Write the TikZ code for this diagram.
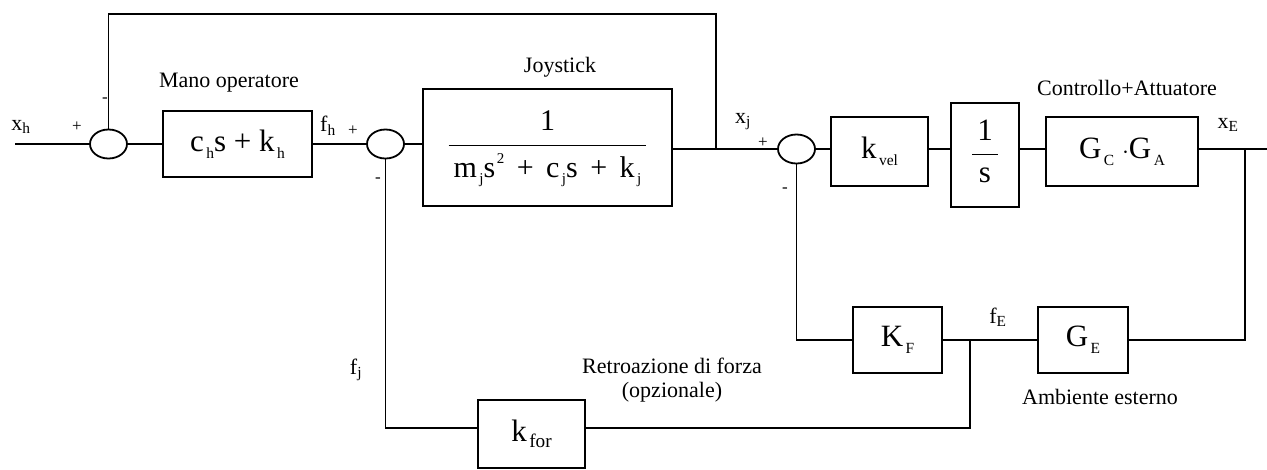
\documentclass[tikz,border=0pt]{standalone}
\usepackage{fontspec}
\setmainfont{Liberation Serif}
\usetikzlibrary{shapes.geometric}
\newcommand*{\lo}[1]{\kern.08em\raisebox{-.22em}{\scalebox{.5}{#1}}}
\newcommand*{\hi}[1]{\kern.05em\raisebox{.45em}{\scalebox{.5}{#1}}}

\begin{document}
\begin{tikzpicture}[x=1pt,y=-1pt,line width=1.8pt,
  blk/.style={draw,line width=1.8pt,inner sep=0pt,font=\fontsize{31}{33}\selectfont},
  sumnode/.style={draw,ellipse,line width=1.8pt,minimum width=37pt,minimum height=29pt,inner sep=0pt},
  lbl/.style={inner sep=0pt,font=\fontsize{22}{24}\selectfont},
  sgn/.style={inner sep=0pt,font=\fontsize{17}{17}\selectfont}]
\useasboundingbox (0,0) rectangle (1267,469);
\coordinate (xin) at (15,144);
\coordinate (ftop) at (716,14);
\coordinate (xjtap) at (716,149);
\coordinate (xout) at (1267,149);
\coordinate (xetap) at (1245,149);
\coordinate (fetap) at (970,340);
% summing junctions
\node[sumnode] (sum1) at (108.5,144) {};
\node[sumnode] (sum2) at (385.5,144) {};
\node[sumnode] (sum3) at (796.5,149) {};
% blocks
\node[blk,minimum width=149pt,minimum height=66pt] (hand) at (237.5,144) {c\lo{h}s + k\lo{h}};
\node[blk,minimum width=249pt,minimum height=117pt,font=\fontsize{30}{32}\selectfont] (joy) at (547.5,147.5)
  {\begin{tabular}{@{\,}c@{\,}}1\\[5pt]\hline\rule{0pt}{32pt}m\lo{j}s\hi{2}\, +\, c\lo{j}s\, +\, k\lo{j}\end{tabular}};
\node[blk,minimum width=97pt,minimum height=69pt] (kvel) at (879.5,151.5) {k\lo{vel}};
\node[blk,minimum width=68pt,minimum height=104pt] (integ) at (985,155)
  {\begin{tabular}{@{\,}c@{\,}}1\\[3pt]\hline\rule{0pt}{28pt}s\end{tabular}};
\node[blk,minimum width=152pt,minimum height=69pt] (gcga) at (1122,151.5) {G\lo{C} $\cdot$G\lo{A}};
\node[blk,minimum width=90pt,minimum height=66pt] (ge) at (1083,340) {G\lo{E}};
\node[blk,minimum width=89pt,minimum height=66pt] (kf) at (897.5,340) {K\lo{F}};
\node[blk,minimum width=107pt,minimum height=68pt] (kfor) at (531.5,434) {k\kern.08em\raisebox{-.2em}{\scalebox{.62}{for}}};
% labels
\node[lbl] (xhlbl) at (21,127) {x\textsubscript{h}};
\node[sgn] (p1) at (77,127) {+};
\node[sgn] (m1) at (105,100) {-};
\node[lbl] (handlbl) at (229,83) {Mano operatore};
\node[lbl] (fhlbl) at (328,126) {f\textsubscript{h}};
\node[sgn] (p2) at (353,131) {+};
\node[sgn] (m2) at (378,180) {-};
\node[lbl] (joylbl) at (560,67) {Joystick};
\node[lbl] (xjlbl) at (743,122) {x\textsubscript{j}};
\node[sgn] (p3) at (763,143) {+};
\node[sgn] (m3) at (785,190) {-};
\node[lbl] (gcgalbl) at (1127,88) {Controllo+Attuatore};
\node[lbl] (xelbl) at (1228,125) {x\textsubscript{E}};
\node[lbl] (felbl) at (998,317) {f\textsubscript{E}};
\node[lbl] (gelbl) at (1100,397) {Ambiente esterno};
\node[lbl] (fjlbl) at (356,370) {f\textsubscript{j}};
\node[lbl,align=center] (kforlbl) at (672,380) {Retroazione di forza\\(opzionale)};
% connections
\draw (xin) -- (sum1.west);
\draw (sum1.east) -- (hand.west);
\draw (hand.east) -- (sum2.west);
\draw (sum2.east) -- (sum2.east -| joy.west);
\draw (sum3.west -| joy.east) -- (sum3.west);
\draw (sum1.north) |- (ftop) -- (xjtap);
\draw (sum3.east) -- (sum3.east -| kvel.west);
\draw (kvel.east |- sum3) -- (integ.west |- sum3);
\draw (integ.east |- sum3) -- (gcga.west |- sum3);
\draw (gcga.east |- sum3) -- (xout);
\draw (xetap) |- (ge.east);
\draw (ge.west) -- (kf.east);
\draw (fetap) |- ([yshift=6pt]kfor.east);
\draw ([yshift=6pt]kfor.west) -| (sum2.south);
\draw (kf.west) -| (sum3.south);
\end{tikzpicture}
\end{document}
